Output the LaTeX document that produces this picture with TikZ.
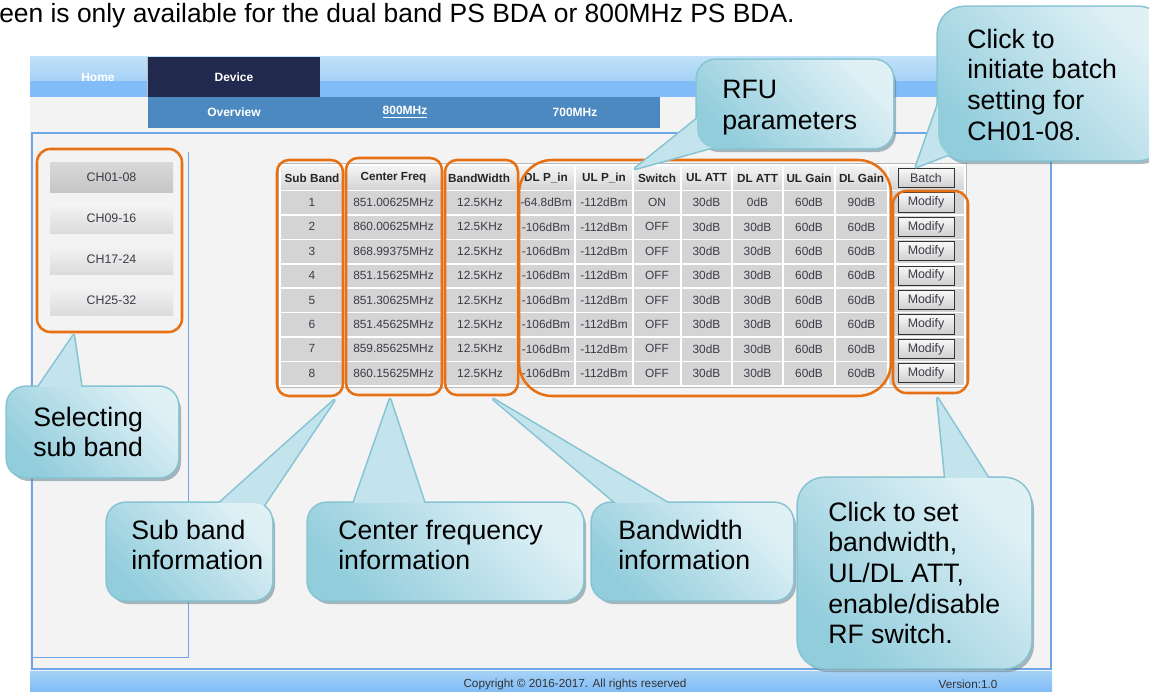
\documentclass[tikz,border=0pt]{standalone}
\usepackage{fontspec}
\setmainfont{Liberation Sans}
\usetikzlibrary{calc,positioning,fit}

\definecolor{navtop}{RGB}{192,225,248}
\definecolor{navmid}{RGB}{165,209,246}
\definecolor{navblue}{RGB}{128,188,247}
\definecolor{navdark}{RGB}{34,41,78}
\definecolor{subnav}{RGB}{77,137,193}
\definecolor{pagebg}{RGB}{243,243,243}
\definecolor{frameblue}{RGB}{110,166,232}
\definecolor{cellgray}{RGB}{212,212,212}
\definecolor{celltext}{RGB}{62,58,72}
\definecolor{hlorange}{RGB}{230,112,20}
\definecolor{calldark}{RGB}{146,205,220}
\definecolor{calllight}{RGB}{224,241,246}
\definecolor{callmid}{RGB}{196,228,237}
\definecolor{callline}{RGB}{134,196,212}
\definecolor{callshadow}{RGB}{100,130,140}

\tikzset{
  navtxt/.style={text=white, font=\fontsize{9}{11}\selectfont\bfseries},
  foottxt/.style={text=black!80, font=\fontsize{8.8}{10}\selectfont},
  chbtn/.style={minimum width=92.25pt, minimum height=22.5pt, inner sep=0pt,
    top color=gray!8, bottom color=gray!28, text=celltext, font=\fontsize{9.3}{11}\selectfont},
  chsel/.style={chbtn, top color=gray!30, bottom color=gray!45},
  hdtxt/.style={font=\fontsize{8.8}{10}\selectfont\bfseries, text=black!85, inner sep=0pt},
  celltxt/.style={font=\fontsize{8.9}{10}\selectfont, text=celltext, inner sep=0pt},
  btn/.style={draw=gray!40!black, line width=0.6pt, top color=gray!5, bottom color=gray!38,
    minimum width=42pt, minimum height=14.5pt, inner sep=0pt, font=\fontsize{9.3}{11}\selectfont, text=celltext},
  hl/.style={draw=hlorange, line width=1.9pt, inner sep=0pt},
  calltxt/.style={anchor=north west, align=left, inner sep=0pt, font=\fontsize{20}{23}\selectfont},
  callshade/.style={top color=calllight, bottom color=calldark, shading angle=-45},
}

% callout: corner, corner, tail base, tip, tail base, radius
\newcommand{\drawcallout}[6]{%
  \fill[callshadow, opacity=.55, rounded corners=#6] ($(#1)+(3,4)$) rectangle ($(#2)+(3,4)$);
  \draw[callline, line width=2.4pt, rounded corners=#6] (#1) rectangle (#2);
  \draw[callline, line width=2.4pt, line join=round] (#3) -- (#4) -- (#5) -- cycle;
  \fill[callmid] (#3) -- (#4) -- (#5) -- cycle;
  \shade[callshade, rounded corners=#6] (#1) rectangle (#2);
}

\begin{document}
\begin{tikzpicture}[x=0.75pt,y=-0.75pt]
    \useasboundingbox (0,0) rectangle (1149,692);
    \node[anchor=base west, inner sep=0pt, font=\fontsize{19.8}{22}\selectfont] (title) at (-1,23)
        {een is only available for the dual band PS BDA or 800MHz PS BDA.};

    % page and menu
    \fill[pagebg] (30,97) rectangle (1052,671);
    \draw[gray!55] (30,56.5) -- (1052,56.5);
    \shade[top color=navtop, bottom color=navmid] (30,57) rectangle (1052,81);
    \fill[navblue] (30,81) rectangle (1052,97);
    \fill[navdark] (147,57) rectangle (320,97);
    \draw[gray!50] (147,57) -- (147,97);
    \node[navtxt] (home) at (98,77) {Home};
    \node[navtxt] (device) at (234,77) {Device};
    \fill[subnav] (148,97) rectangle (660,128);
    \node[navtxt] (overview) at (234,112) {Overview};
    \node[navtxt] (band800) at (405,112) {\underline{800MHz}};
    \node[navtxt] (band700) at (575,112) {700MHz};
    \draw[frameblue, line width=1.5pt] (32,133) rectangle (1051,669);
    \draw[frameblue, line width=0.6pt] (188,152) -- (188,657) -- (32,657);
    \shade[top color=navmid, bottom color=navblue] (30,671) rectangle (1052,692);
    \node[foottxt] (copyright) at (575,684) {Copyright © 2016-2017. All rights reserved};
    \node[foottxt] (version) at (968,684) {Version:1.0};

    % sub band buttons
    \node[chsel] (ch1) at (111.5,177) {CH01-08};
    \foreach \t [count=\i from 2] in {CH09-16,CH17-24,CH25-32}
        \node[chbtn] (ch\i) at (111.5,{177+(\i-1)*41}) {\t};

    % table
    \fill[cellgray] (280,165) rectangle (965,386);
    \draw[gray!55] (278.5,163.5) rectangle (966.5,387.5);
    \shade[top color=gray!8, bottom color=cellgray] (280,165) rectangle (965,190.5);
    \foreach \x in {344,443,517,575,633,681,732,783,835,888}
        \draw[white, line width=1.2pt] (\x,165) -- (\x,386);
    \foreach \r in {0,...,8}
        \draw[white, line width=1.2pt] (280,{190.5+\r*24.4}) -- (965,{190.5+\r*24.4});
    \draw[white, line width=1.2pt] (280,165) rectangle (965,386);
    \foreach \x/\t [count=\c] in {312/Sub Band, 393.5/Center Freq, 479/BandWidth, 546/DL P\_in,
        604/UL P\_in, 657/Switch, 706.5/UL ATT, 757.5/DL ATT, 809/UL Gain, 861.5/DL Gain}
        \node[hdtxt] (hd\c) at (\x,178) {\t};
    \node[btn] (batch) at (926,178) {Batch};
    \foreach \f/\dl/\sw/\da/\dg [count=\r] in {851.00625MHz/-64.8dBm/ON/0dB/90dB,
        860.00625MHz/-106dBm/OFF/30dB/60dB, 868.99375MHz/-106dBm/OFF/30dB/60dB,
        851.15625MHz/-106dBm/OFF/30dB/60dB, 851.30625MHz/-106dBm/OFF/30dB/60dB,
        851.45625MHz/-106dBm/OFF/30dB/60dB, 859.85625MHz/-106dBm/OFF/30dB/60dB,
        860.15625MHz/-106dBm/OFF/30dB/60dB}
    {
        \foreach \x/\v [count=\c] in {312/\r, 393.5/\f, 480/12.5KHz, 546/\dl, 604/-112dBm,
            657/\sw, 706.5/30dB, 757.5/\da, 809/60dB, 861.5/\dg}
            \node[celltxt] (d\r-\c) at (\x,{202.4+(\r-1)*24.4}) {\v};
        \node[btn] (mod\r) at (926,{202.4+(\r-1)*24.4}) {Modify};
    }

    % orange marks
    \node[hl, rounded corners=10pt, fit={(37,149) (182,332)}] (hlCh) {};
    \node[hl, rounded corners=9pt, fit={(277,160) (343,396)}] (hlSub) {};
    \node[hl, rounded corners=9pt, fit={(346,158) (442,395)}] (hlFreq) {};
    \node[hl, rounded corners=9pt, fit={(445,160) (518,395)}] (hlBw) {};
    \node[hl, rounded corners=25pt, fit={(519,160) (891,396)}] (hlRfu) {};
    \node[hl, rounded corners=10pt, fit={(893,191) (968,393)}] (hlMod) {};

    % callouts
    \coordinate (tSel) at ($(hlCh.south west)+(38,2)$);
    \coordinate (tSub) at ($(hlSub.south east)+(-10,3)$);
    \coordinate (tFreq) at ($(hlFreq.south)+(-4,3)$);
    \coordinate (tBw) at ($(hlBw.south)+(12,3)$);
    \coordinate (tSet) at ($(hlMod.south)+(7,4)$);
    \coordinate (tRfu) at ($(hlRfu.north)+(-70,10)$);
    \coordinate (tBatch) at ($(batch.north)+(-10,-1)$);
    \drawcallout{7,387}{178,477}{35,392}{tSel}{82,392}{14pt}
    \node[calltxt] (selTxt) at (33,406.5) {Selecting\\sub band};
    \drawcallout{107,503}{272,600}{214,508}{tSub}{262,508}{14pt}
    \node[calltxt] (subTxt) at (131,519.5) {Sub band\\information};
    \drawcallout{308,503}{583,600}{352,508}{tFreq}{426,508}{14pt}
    \node[calltxt] (freqTxt) at (338,519.5) {Center frequency\\information};
    \drawcallout{592,503}{793,600}{622,508}{tBw}{676,508}{14pt}
    \node[calltxt] (bwTxt) at (618,519.5) {Bandwidth\\information};
    \drawcallout{798,478}{1031,668}{946,484}{tSet}{992,484}{20pt}
    \node[calltxt] (setTxt) at (828,501.5) {Click to set\\bandwidth,\\UL/DL ATT,\\enable/disable\\RF switch.};
    \drawcallout{697,60}{893,148}{708,110}{tRfu}{735,141}{14pt}
    \node[calltxt] (rfuTxt) at (722,80) {RFU\\parameters};
    \drawcallout{938,7}{1165,160}{946,82}{tBatch}{960,150}{20pt}
    \node[calltxt] (batchTxt) at (967,28.5) {Click to\\initiate batch\\setting for\\CH01-08.};
\end{tikzpicture}
\end{document}
